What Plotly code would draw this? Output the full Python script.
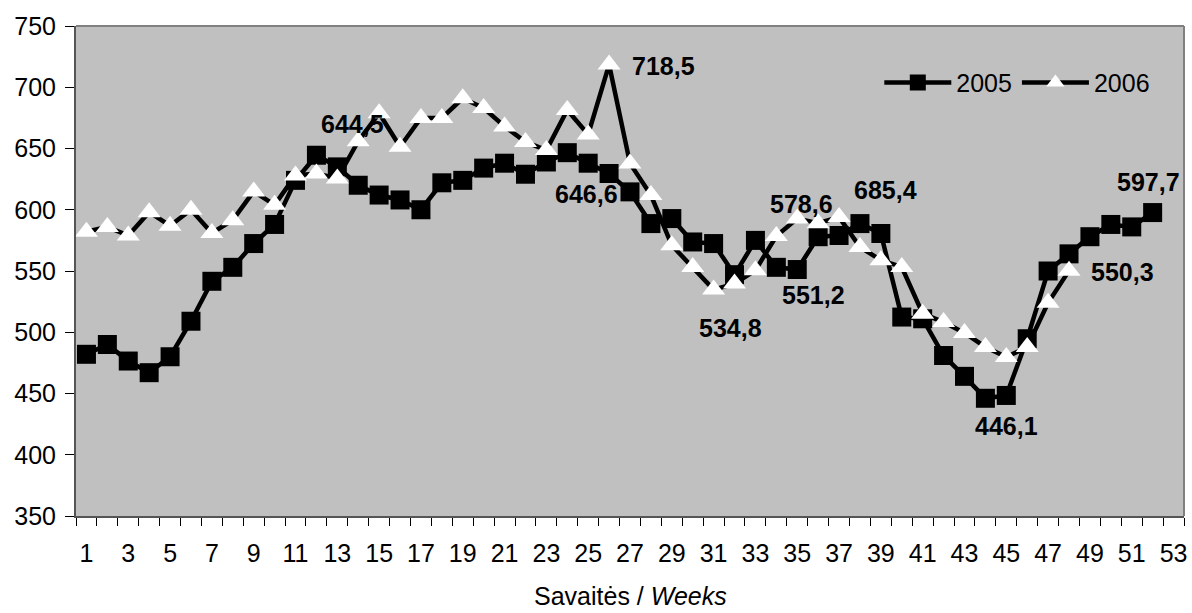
import plotly.graph_objects as go

weeks_2005 = list(range(1, 53))
values_2005 = [482, 490, 476.5, 467, 480, 509, 541.6, 553, 572.4, 588,
               624, 644.5, 635, 620, 612, 608, 600, 622, 624, 634,
               638, 629, 639, 646.6, 638, 629.6, 614.6, 588.7, 592.8, 573.7,
               572.4, 547, 575, 553, 551.2, 578, 579, 588.7, 580.6, 512.4,
               511, 481, 464, 446.1, 448.4, 494.7, 550, 564, 578, 588,
               586, 597.7]

weeks_2006 = list(range(1, 49))
values_2006 = [582, 586, 579, 598, 587, 600, 581, 591.5, 615, 604,
               628, 629.6, 625.5, 656, 678.7, 651.4, 675, 675, 691, 683,
               668, 655.4, 648.7, 681.4, 661.5, 718.5, 637.8, 612, 571, 553.3,
               534.8, 539.7, 550.6, 578.6, 592.8, 589, 594, 569.6, 558.8, 553.3,
               515.2, 508.3, 499.4, 488, 479.7, 488, 524, 550.3]

x_tick_vals = list(range(1, 54, 2))
x_tick_text = [str(v) for v in x_tick_vals]
y_tick_vals = list(range(350, 751, 50))

# data labels: (series, week, text, xshift, yshift)
label_series = ["2005", "2006", "2005", "2006", "2005", "2006", "2005", "2005", "2006", "2005"]
label_weeks = [12, 26, 24, 31, 35, 34, 38, 44, 48, 52]
label_texts = ["644,5", "718,5", "646,6", "534,8", "551,2", "578,6", "685,4", "446,1", "550,3", "597,7"]
label_dx = [36, 54, 19, 17, 16, 25, 26, 21, 53, -4]
label_dy = [31, -1, -41, -38, -25, 32, 34, -28, -1, 31]

FONT = "Arial, Liberation Sans, sans-serif"

fig = go.Figure()
fig.add_trace(go.Scatter(
    x=weeks_2005, y=values_2005, name="2005", mode="lines+markers",
    line=dict(color="black", width=4.5),
    marker=dict(symbol="square", size=19, color="black", line=dict(width=0)),
))
fig.add_trace(go.Scatter(
    x=weeks_2006, y=values_2006, name="2006", mode="lines+markers",
    line=dict(color="black", width=4.5),
    marker=dict(symbol="triangle-up", size=20, color="white", line=dict(width=0)),
))

series_map = {"2005": (weeks_2005, values_2005), "2006": (weeks_2006, values_2006)}
for s, w, t, dx, dy in zip(label_series, label_weeks, label_texts, label_dx, label_dy):
    ws, vs = series_map[s]
    yv = vs[ws.index(w)]
    fig.add_annotation(x=w, y=yv, xref="x", yref="y", text="<b>" + t + "</b>",
                       showarrow=False, xshift=dx, yshift=dy,
                       font=dict(family=FONT, size=25, color="black"))

fig.add_annotation(x=0.5, y=-0.163, xref="paper", yref="paper",
                   text="Savaitės / <i>Weeks</i>", showarrow=False,
                   xanchor="center", yanchor="middle",
                   font=dict(family=FONT, size=25, color="black"))

fig.update_layout(
    width=1192, height=613,
    margin=dict(l=76, r=5, t=26, b=97),
    paper_bgcolor="white", plot_bgcolor="#C0C0C0",
    font=dict(family=FONT, size=25, color="black"),
    showlegend=True,
    legend=dict(orientation="h", x=0.725, y=0.884, xanchor="left", yanchor="middle",
                bgcolor="rgba(0,0,0,0)", itemwidth=67, font=dict(size=25),
                tracegroupgap=0),
)
fig.update_xaxes(
    range=[0.5, 53.5], tickmode="array", tickvals=x_tick_vals, ticktext=x_tick_text,
    ticks="", showgrid=False, zeroline=False,
    showline=True, linecolor="#555555", linewidth=2, mirror=False,
    minor=dict(tickmode="linear", tick0=0.5, dtick=1, ticks="outside", ticklen=8,
               tickcolor="black", tickwidth=1, showgrid=False),
    tickfont=dict(size=25), ticklabelstandoff=14,
)
fig.update_yaxes(
    range=[350, 750], tickmode="array", tickvals=y_tick_vals,
    ticks="outside", ticklen=9, tickcolor="black", tickwidth=1,
    showgrid=False, zeroline=False,
    showline=True, linecolor="#555555", linewidth=2,
    tickfont=dict(size=25), ticklabelstandoff=4,
)
# top and right border of the plot area
fig.add_shape(type="line", xref="paper", yref="paper", x0=0, x1=1, y0=1, y1=1,
              line=dict(color="#808080", width=2))
fig.add_shape(type="line", xref="paper", yref="paper", x0=1, x1=1, y0=0, y1=1,
              line=dict(color="#808080", width=2))

fig.write_html("out.html", config={"displayModeBar": False},
               post_script="document.body.style.margin='0';document.body.style.overflow='hidden';")
